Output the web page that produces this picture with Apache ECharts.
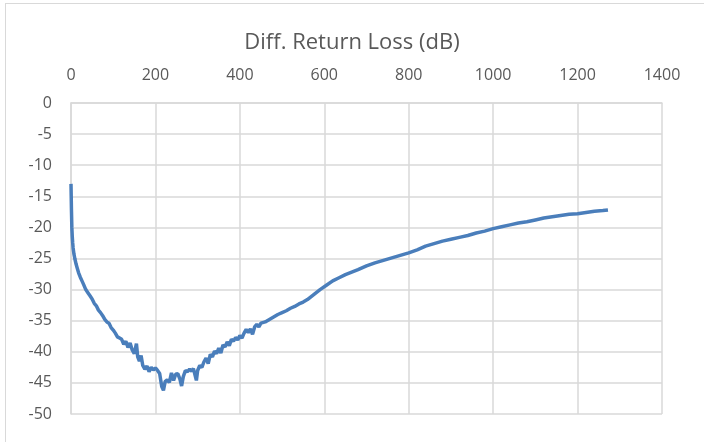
<!DOCTYPE html>
<html>
<head>
<meta charset="utf-8">
<script src="https://cdn.jsdelivr.net/npm/echarts@6/dist/echarts.min.js"></script>
<style>
  html, body { margin: 0; padding: 0; background: #fff; }
  #frame { position: absolute; left: 5px; top: 3px; width: 710px; height: 450px; border: 1px solid #d9d9d9; }
  #chart { position: absolute; left: 0; top: 0; width: 704px; height: 442px; }
</style>
</head>
<body>
<div id="frame"></div>
<div id="chart"></div>
<script>
// frequency (x) and return loss (dB)
const freq = [
  0, 1, 2, 3, 4, 5, 7, 9, 12, 15, 18, 22, 26, 30, 35, 40, 45, 50, 55, 60, 65, 70,
  75, 80, 85, 90, 95, 100, 105, 110, 115, 120, 125, 130, 135, 140, 145, 150, 155, 158, 162, 166,
  170, 175, 180, 185, 190, 195, 200, 205, 210, 215, 219, 223, 228, 233, 238, 243, 248, 253,
  258, 262, 266, 271, 276, 281, 286, 290, 294, 297, 300, 305, 310, 315, 320, 325, 330, 335,
  340, 345, 350, 355, 360, 365, 370, 375, 380, 385, 390, 395, 400, 405, 410, 415, 420, 425,
  430, 435, 440, 445, 450, 460, 470, 480, 490, 500, 510, 520, 530, 540, 550, 560, 575, 590,
  605, 620, 635, 650, 665, 680, 700, 720, 740, 760, 780, 800, 820, 840, 860, 880, 900, 920,
  940, 960, 980, 1000, 1020, 1040, 1060, 1080, 1100, 1120, 1140, 1160, 1180, 1200, 1220, 1240,
  1260, 1272
];
const lossDb = [
  -13, -17, -20, -21.5, -22.5, -23.3, -24.3, -25, -25.9, -26.6, -27.3, -28, -28.6, -29.2, -30, -30.5, -31, -31.5, -32.2, -32.6, -33.3, -33.7,
  -34.2, -34.8, -35.2, -35.4, -36.1, -36.5, -37.0, -37.6, -37.8, -38.0, -38.8, -38.3, -39.3, -38.6, -39.7, -40.3, -38.7, -40.8, -41.5, -40.6,
  -42.2, -42.8, -42.3, -43.2, -42.5, -42.9, -42.6, -43.0, -43.5, -45.6, -46.2, -44.8, -44.5, -44.9, -43.4, -44.6, -43.6, -43.5,
  -44.4, -45.5, -44.0, -43.0, -43.2, -42.8, -43.1, -42.7, -42.9, -44.6, -43.0, -42.2, -42.5, -41.6, -41.0, -41.9, -40.4, -40.8,
  -39.9, -40.3, -39.4, -40.2, -38.9, -39.2, -38.4, -39.0, -38.0, -38.3, -37.7, -38.1, -37.4, -37.8, -37.0, -36.4, -36.9, -36.3,
  -37.2, -36.0, -35.6, -36.0, -35.4, -35.2, -34.8, -34.4, -34.0, -33.7, -33.4, -33.0, -32.7, -32.3, -32.0, -31.6, -30.8, -30.0,
  -29.3, -28.6, -28.1, -27.6, -27.2, -26.8, -26.2, -25.7, -25.3, -24.9, -24.5, -24.1, -23.6, -23.0, -22.6, -22.2, -21.9, -21.6,
  -21.3, -20.9, -20.6, -20.2, -19.9, -19.6, -19.3, -19.1, -18.8, -18.5, -18.3, -18.1, -17.9, -17.8, -17.6, -17.4,
  -17.3, -17.2
];

const font = '"Open Sans", "Noto Sans", sans-serif';
const chart = echarts.init(document.getElementById('chart'));

chart.setOption({
  animation: false,
  title: {
    text: 'Diff. Return Loss (dB)',
    left: 'center',
    top: 27,
    textStyle: { fontFamily: font, fontSize: 22, fontWeight: 'normal', color: '#595959' }
  },
  grid: { left: 71, right: 42, top: 103, bottom: 28 },
  xAxis: {
    type: 'value',
    position: 'top',
    min: 0, max: 1400, interval: 200,
    axisLine: { show: true, onZero: false, lineStyle: { color: '#d9d9d9', width: 1.5 } },
    axisTick: { show: false },
    axisLabel: { margin: 20, fontFamily: font, fontSize: 16, color: '#595959', formatter: v => String(v) },
    splitLine: { show: true, lineStyle: { color: '#d9d9d9', width: 1.5 } }
  },
  yAxis: {
    type: 'value',
    min: -50, max: 0, interval: 5,
    axisLine: { show: true, lineStyle: { color: '#d9d9d9', width: 1.5 } },
    axisTick: { show: false },
    axisLabel: { margin: 19, fontFamily: font, fontSize: 16, color: '#595959' },
    splitLine: { show: true, lineStyle: { color: '#d9d9d9', width: 1.5 } }
  },
  series: [{
    type: 'line',
    data: freq.map((f, i) => [f, lossDb[i]]),
    showSymbol: false,
    smooth: false,
    lineStyle: { color: '#4a7ebb', width: 3.5 },
    itemStyle: { color: '#4a7ebb' }
  }]
});
</script>
</body>
</html>
